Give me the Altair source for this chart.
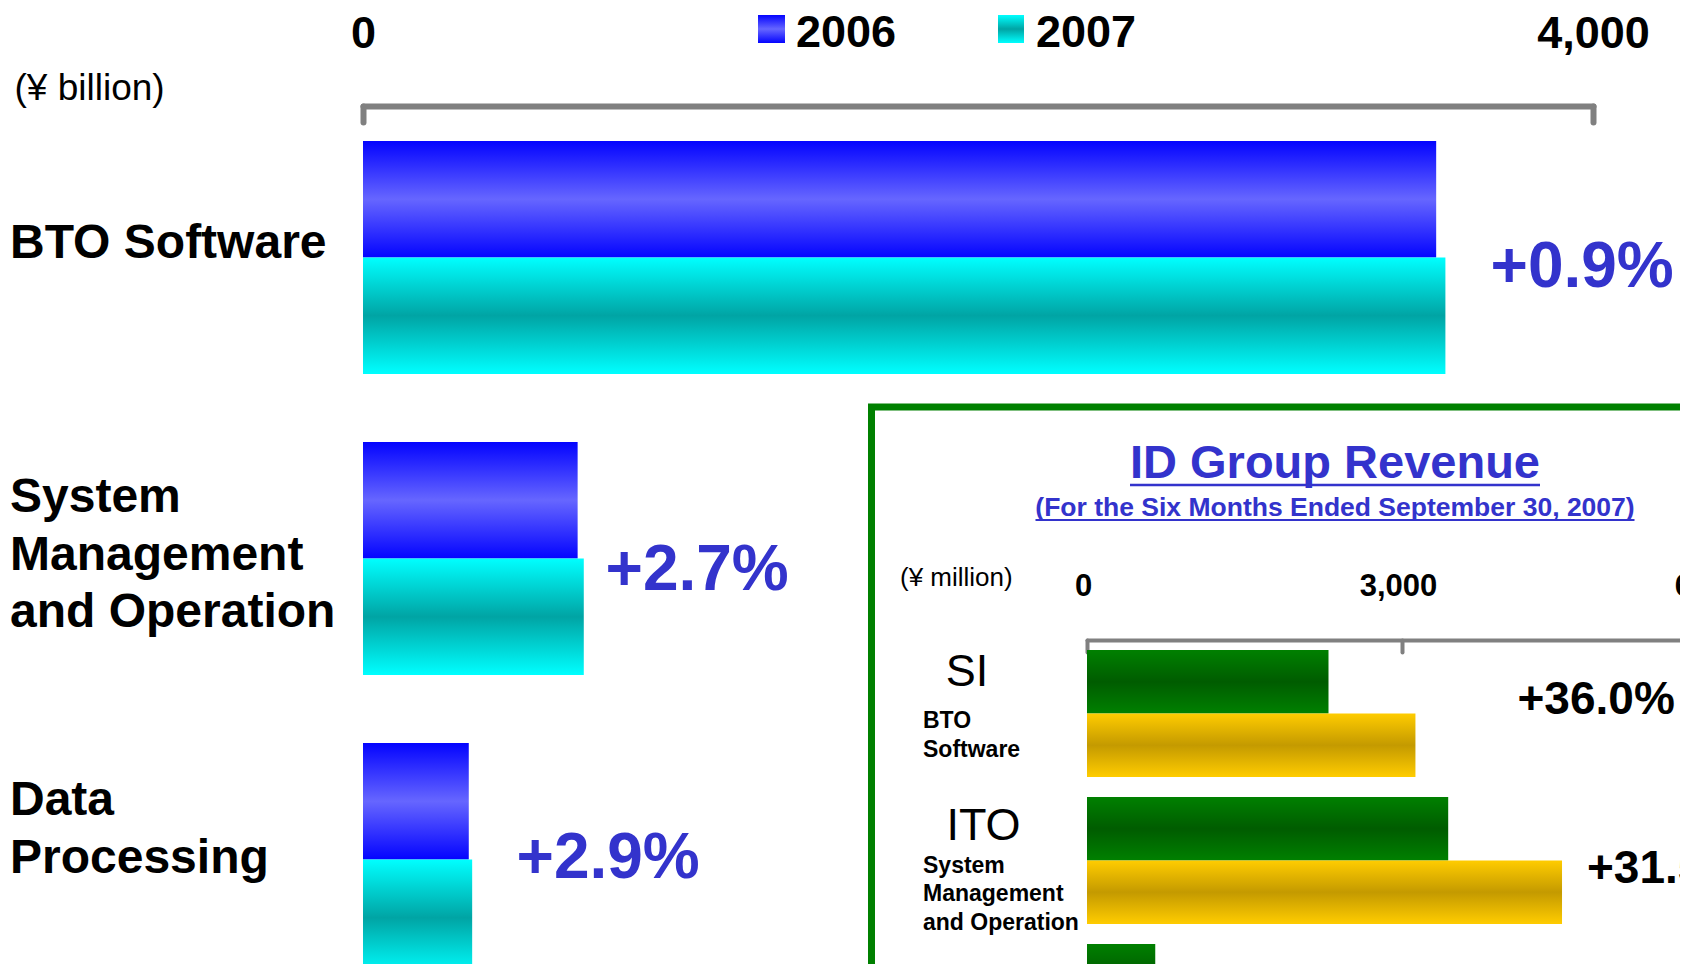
import altair as alt
import pandas as pd

# ---------------- data ----------------
categories = ["BTO Software", "System Management and Operation", "Data Processing"]
category_lines = [["BTO Software"], ["System", "Management", "and Operation"], ["Data", "Processing"]]
years = ["2006", "2007"]
values_2006 = [3490, 698, 344]
values_2007 = [3520, 718, 355]
growth = ["+0.9%", "+2.7%", "+2.9%"]
axis_ticks = [0, 4000]
unit_label = "(¥ billion)"

inset_categories = ["SI", "ITO", "BPO"]
inset_heads = ["SI", "ITO"]
inset_sublines = [["BTO", "Software"], ["System", "Management", "and Operation"]]
inset_2006 = [2300, 3440, 650]
inset_2007 = [3128, 4524]
inset_growth = ["+36.0%", "+31.5%"]
inset_ticks = [0, 3000, 6000]
inset_unit = "(¥ million)"
inset_title = "ID Group Revenue"
inset_subtitle = "(For the Six Months Ended September 30, 2007)"

# ---------------- styles ----------------
W, H = 1672, 956
FONT = "Liberation Sans"
PCT = "#3333cc"
GRAY = "#808080"


def vgrad(c_edge, c_mid):
    return {"gradient": "linear", "x1": 0, "y1": 0, "x2": 0, "y2": 1,
            "stops": [{"offset": 0, "color": c_edge},
                      {"offset": 0.5, "color": c_mid},
                      {"offset": 1, "color": c_edge}]}


G2006 = vgrad("#0404ff", "#6666ff")
G2007 = vgrad("#00ffff", "#00a4a4")
GGREEN = vgrad("#008000", "#005c00")
GGOLD = vgrad("#ffcc00", "#c49a00")

main_df = pd.DataFrame({
    "category": categories + categories,
    "year": ["2006"] * len(values_2006) + ["2007"] * len(values_2007),
    "value": values_2006 + values_2007,
})
inset_df = pd.DataFrame({
    "category": inset_categories + inset_categories[:len(inset_2007)],
    "year": ["2006"] * len(inset_2006) + ["2007"] * len(inset_2007),
    "value": inset_2006 + inset_2007,
})

main_x = alt.Scale(domain=[0, 4000], range=[355, 1585], nice=False)
main_y = alt.Scale(domain=categories, range=[133, 968], paddingInner=0.2259, paddingOuter=0)
inset_x = alt.Scale(domain=[0, 6000], range=[1079, 1709], nice=False)
inset_y = alt.Scale(domain=inset_categories, range=[642, 1063], paddingInner=20 / 147, paddingOuter=0)
year_off = alt.Scale(domain=years, paddingInner=0, paddingOuter=0)

main_axis = alt.Axis(
    orient="bottom", offset=98 - H, values=axis_ticks, format=",.0f",
    domainColor=GRAY, domainWidth=6, domainCap="round",
    tickColor=GRAY, tickWidth=6, tickSize=16, tickCap="round",
    labelPadding=-75, labelBaseline="alphabetic", labelFont=FONT, labelFontSize=45,
    labelFontWeight="bold", labelColor="#000000", labelFlush=False, labelOverlap=False,
    grid=False, title=None,
)
inset_axis = alt.Axis(
    orient="bottom", offset=632 - H, values=inset_ticks, format=",.0f",
    domainColor=GRAY, domainWidth=4, domainCap="round",
    tickColor=GRAY, tickWidth=4, tickSize=12, tickCap="round",
    labelPadding=-57, labelOffset=-4, labelBaseline="alphabetic", labelFont=FONT,
    labelFontSize=31, labelFontWeight="bold", labelColor="#000000", labelFlush=False,
    labelOverlap=False, grid=False, title=None,
)


def bars(df, year, xs, ys, grad, axis):
    return alt.Chart(df).transform_filter(alt.datum.year == year).mark_bar(color=grad).encode(
        x=alt.X("value:Q", scale=xs, axis=axis),
        y=alt.Y("category:N", scale=ys, axis=None),
        yOffset=alt.YOffset("year:N", scale=year_off),
    )


one = pd.DataFrame({"k": [0]})


def label(text, x, y, size, weight="normal", color="#000000", align="left", font=FONT, lh=None):
    kw = dict(text=text, fontSize=size, fontWeight=weight, color=color, align=align,
              baseline="alphabetic", font=font)
    if lh is not None:
        kw["lineHeight"] = lh
    return alt.Chart(one).mark_text(**kw).encode(x=alt.value(x), y=alt.value(y))


def box(x, x2, y, y2, grad):
    return alt.Chart(one).mark_rect(color=grad).encode(
        x=alt.value(x), x2=alt.value(x2), y=alt.value(y), y2=alt.value(y2))


def uline(x, x2, y, w):
    return alt.Chart(one).mark_rule(color=PCT, strokeWidth=w).encode(
        x=alt.value(x), x2=alt.value(x2), y=alt.value(y))


layers = []
# inset frame
layers.append(alt.Chart(one).mark_rect(filled=False, color="#008000", strokeWidth=7).encode(
    x=alt.value(863.5), x2=alt.value(2000), y=alt.value(399), y2=alt.value(2000)))

# main bars
layers.append(bars(main_df, "2006", main_x, main_y, G2006, main_axis))
layers.append(bars(main_df, "2007", main_x, main_y, G2007, None))
# inset bars
layers.append(bars(inset_df, "2006", inset_x, inset_y, GGREEN, inset_axis))
layers.append(bars(inset_df, "2007", inset_x, inset_y, GGOLD, None))

# legend
layers.append(box(750, 777, 7, 35, G2006))
layers.append(label(years[0], 788, 39, 45, "bold"))
layers.append(box(990, 1016, 7, 35, G2007))
layers.append(label(years[1], 1028, 39, 45, "bold"))

# unit
layers.append(label(unit_label, 6.5, 92, 37))

# category labels (main)
cat_pos = [(2, 250), (2, 504), (2, 807)]
for lines, (x, y) in zip(category_lines, cat_pos):
    layers.append(label(lines, x, y, 48, "bold", lh=57.5))

# growth labels (main)
pct_pos = [(1482.5, 279), (597.5, 582), (508.5, 870)]
for t, (x, y) in zip(growth, pct_pos):
    layers.append(label(t, x, y, 64, "bold", PCT))

# inset title
layers.append(label(inset_title, 1327, 470, 47, "bold", PCT, "center"))
layers.append(uline(1122, 1532, 477, 2.5))
layers.append(label(inset_subtitle, 1327, 508, 26.5, "bold", PCT, "center"))
layers.append(uline(1027.5, 1626.5, 512, 2))
layers.append(label(inset_unit, 892, 578, 26))

# inset category labels
head_pos = [(959, 678), (975.5, 832)]
for t, (x, y) in zip(inset_heads, head_pos):
    layers.append(label(t, x, y, 45, "normal", "#000000", "center"))
sub_pos = [(915, 720), (915, 864.5)]
for lines, (x, y) in zip(inset_sublines, sub_pos):
    layers.append(label(lines, x, y, 23, "bold", lh=28.8))

# inset growth
ig_pos = [(1509.5, 706), (1579, 875)]
for t, (x, y) in zip(inset_growth, ig_pos):
    layers.append(label(t, x, y, 46, "bold"))

chart = alt.layer(*layers).resolve_scale(
    x="independent", y="independent", yOffset="independent"
).properties(
    width=W, height=H, padding=0, background="white",
    autosize=alt.AutoSizeParams(type="none"),
).configure_view(stroke=None)

chart.save("out.html", embed_options={"renderer": "svg", "actions": False})
